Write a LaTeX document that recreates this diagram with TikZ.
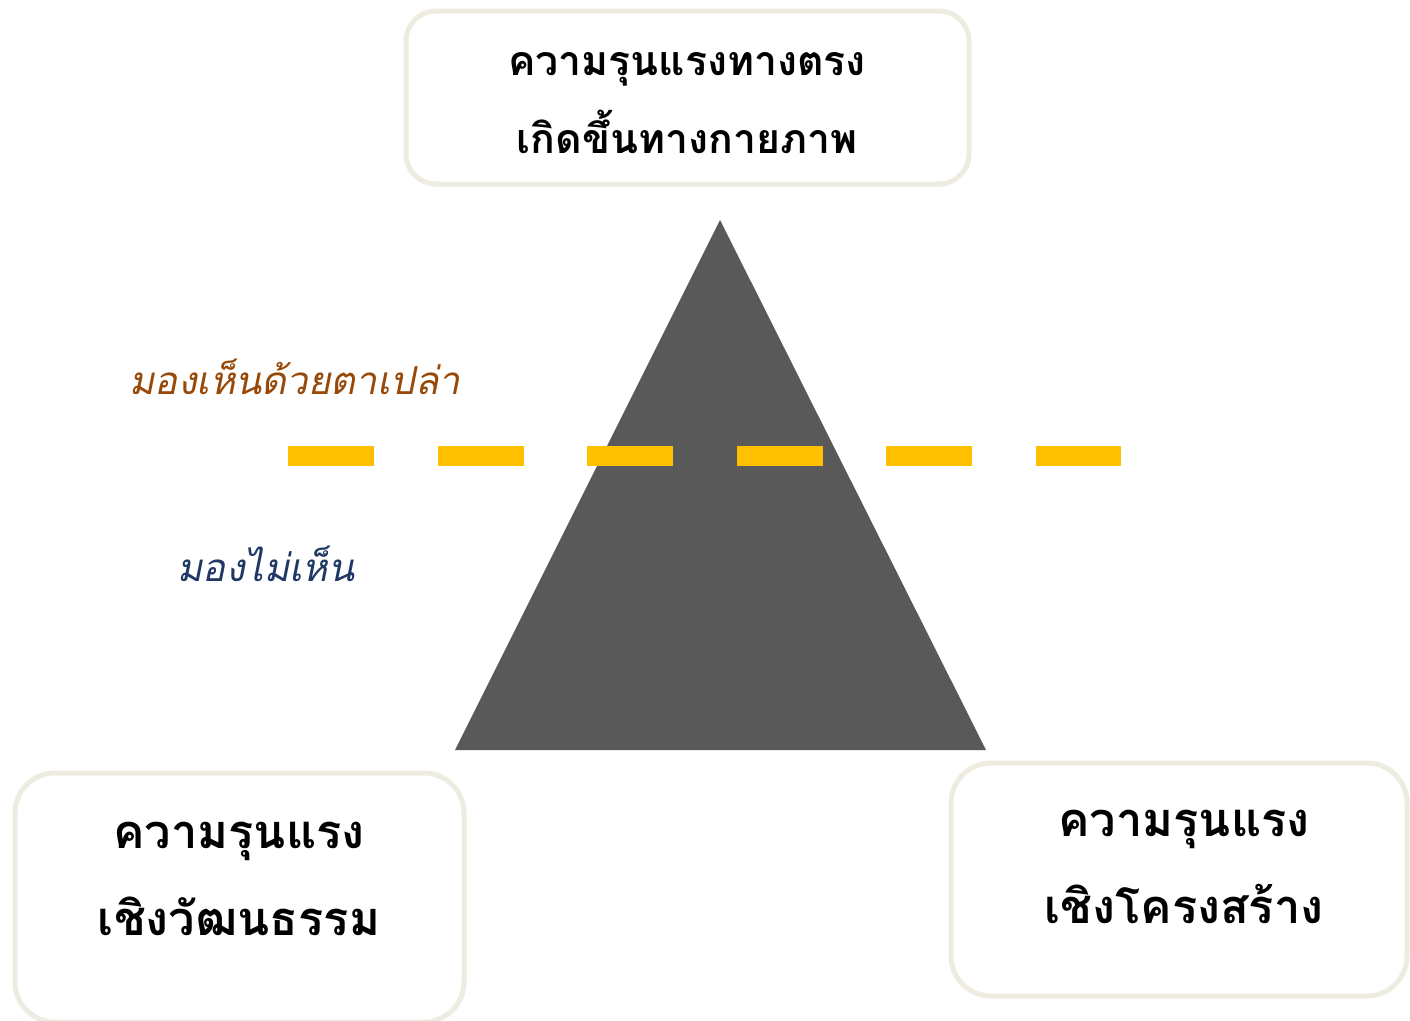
\documentclass[tikz,border=0pt]{standalone}
\usepackage{fontspec}
\newfontfamily\thai[Script=Thai]{Loma}
\newfontfamily\thaisl[Script=Thai,FakeSlant=0.2]{Loma}
\definecolor{boxline}{HTML}{EEECE1}
\definecolor{tri}{HTML}{595959}
\definecolor{dashc}{HTML}{FFC000}
\definecolor{brownt}{HTML}{984807}
\definecolor{bluet}{HTML}{1F3864}
\tikzset{
  rbox/.style={draw=boxline, line width=5pt, rounded corners=34pt, fill=white},
  boxtext/.style={font=\thai\bfseries\fontsize{41}{78}\selectfont, align=center, text=black},
  bigtext/.style={font=\thai\bfseries\fontsize{47}{87}\selectfont, align=center, text=black},
  lbl/.style={font=\thaisl\fontsize{38.5}{42}\selectfont, anchor=west}
}
\begin{document}
\begin{tikzpicture}[x=1pt,y=-1pt]
\useasboundingbox (0,0) rectangle (1410,1020);
\fill[white] (0,0) rectangle (1410,1020);
% boxes
\draw[rbox, rounded corners=30pt] (406,11) rectangle (969,184);
\draw[rbox, rounded corners=40pt] (15,773) rectangle (464,1022);
\draw[rbox, rounded corners=40pt] (951,763) rectangle (1407,996);
\node[boxtext] (top) at (687,103) {ความรุนแรงทางตรง\\เกิดขึ้นทางกายภาพ};
\node[bigtext] (bl) at (239,879) {ความรุนแรง\\เชิงวัฒนธรรม};
\node[bigtext] (br) at (1184,867) {ความรุนแรง\\เชิงโครงสร้าง};
% triangle
\fill[tri] (720,220) -- (986,750) -- (455,750) -- cycle;
% dashed line
\coordinate (ds) at (288,456);
\coordinate (de) at (1121,456);
\draw[dashc, line width=20pt, dash pattern=on 86pt off 63.5pt] (ds) -- (de);
% labels
\node[lbl, text=brownt] (vis) at (126,377) {มองเห็นด้วยตาเปล่า};
\node[lbl, text=bluet] (invis) at (174,564) {มองไม่เห็น};
\end{tikzpicture}
\end{document}
